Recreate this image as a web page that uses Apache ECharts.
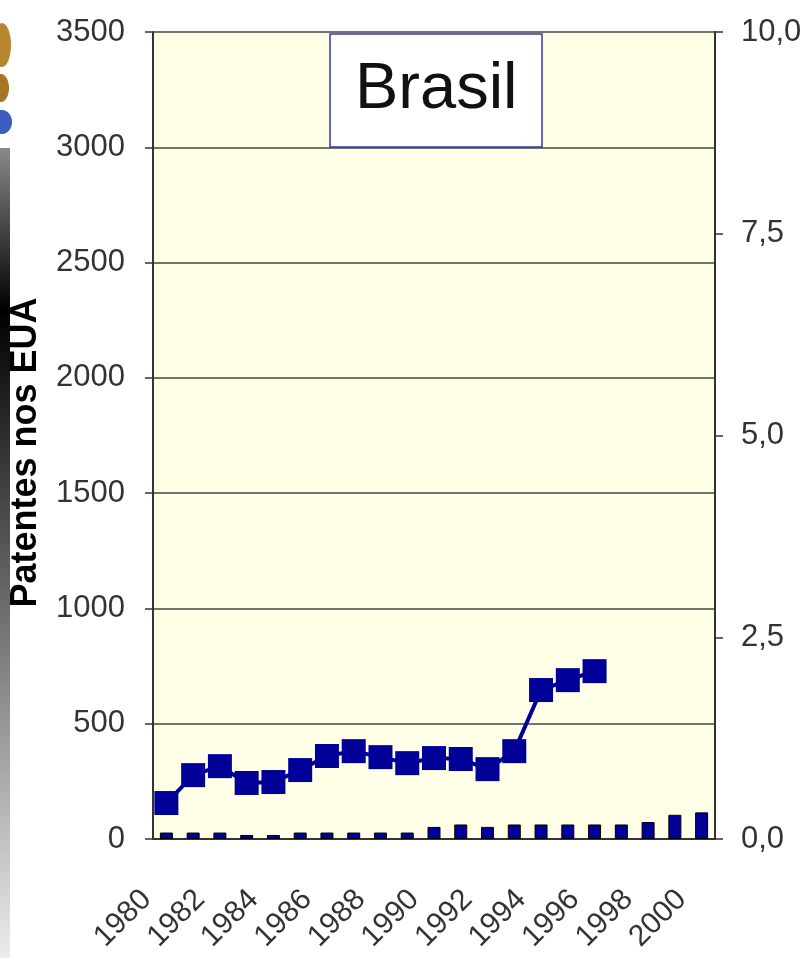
<!DOCTYPE html>
<html>
<head>
<meta charset="utf-8">
<script src="https://cdn.jsdelivr.net/npm/echarts@6/dist/echarts.min.js"></script>
<style>
  html, body { margin: 0; padding: 0; background: #fff; }
  #box { width: 806px; height: 958px; }
</style>
</head>
<body>
<div id="box"></div>
<script>
(function () {
    // anos (eixo x)
    var years = ['1980', '1981', '1982', '1983', '1984', '1985', '1986', '1987', '1988', '1989', '1990',
        '1991', '1992', '1993', '1994', '1995', '1996', '1997', '1998', '1999', '2000'];
    // patentes nos EUA (linha, eixo esquerdo)
    var patentes = [156, 277, 316, 243, 247, 299, 360, 381, 355, 329, 351, 347, 303, 381, 646, 689, 728];
    // barras (eixo direito)
    var barras = [0.08, 0.08, 0.08, 0.05, 0.05, 0.08, 0.08, 0.08, 0.08, 0.08, 0.15,
        0.18, 0.15, 0.18, 0.18, 0.18, 0.18, 0.18, 0.21, 0.30, 0.33];

    var font = "'Liberation Sans', Arial, sans-serif";
    var myChart = echarts.init(document.getElementById('box'));

    var option = {
        backgroundColor: '#fff',
        animation: false,
        title: {
            text: 'Brasil',
            left: 330,
            top: 34,
            padding: [24, 25, 24, 25],
            backgroundColor: '#fff',
            borderColor: '#3333bb',
            borderWidth: 1.5,
            textStyle: {
                fontFamily: font,
                fontWeight: 'normal',
                fontSize: 65,
                color: '#111'
            }
        },
        grid: {
            left: 153,
            right: 91,
            top: 32,
            bottom: 119,
            show: true,
            backgroundColor: '#ffffe8',
            borderWidth: 0
        },
        xAxis: {
            type: 'category',
            data: years,
            boundaryGap: true,
            axisLine: { lineStyle: { color: '#333', width: 2 } },
            axisTick: { interval: 0, length: 8, lineStyle: { color: '#333', width: 1.5 } },
            axisLabel: {
                interval: 1,
                rotate: 45,
                margin: 36,
                padding: [0, 28, 0, 0],
                fontFamily: font,
                fontSize: 30,
                color: '#333'
            }
        },
        yAxis: [
            {
                type: 'value',
                min: 0,
                max: 3500,
                interval: 500,
                name: 'Patentes nos EUA',
                nameLocation: 'middle',
                nameGap: 109,
                nameTextStyle: {
                    fontFamily: font, fontWeight: 'bold', fontSize: 36, color: '#000',
                    padding: [0, 34, 0, 0]
                },
                axisLine: { show: true, lineStyle: { color: '#333', width: 2 } },
                axisTick: { show: true, length: 8, lineStyle: { color: '#333', width: 1.5 } },
                splitLine: { show: true, lineStyle: { color: '#444', width: 1.5 } },
                axisLabel: {
                    margin: 28, fontFamily: font, fontSize: 31, color: '#333',
                    formatter: function (v) { return String(v); }
                }
            },
            {
                type: 'value',
                min: 0,
                max: 10,
                interval: 2.5,
                position: 'right',
                axisLine: { show: true, lineStyle: { color: '#333', width: 2 } },
                axisTick: { show: true, length: 8, lineStyle: { color: '#333', width: 1.5 } },
                splitLine: { show: false },
                axisLabel: {
                    margin: 26,
                    fontFamily: font,
                    fontSize: 31,
                    color: '#333',
                    formatter: function (v) { return v.toFixed(1).replace('.', ','); }
                }
            }
        ],
        series: [
            {
                type: 'bar',
                yAxisIndex: 1,
                data: barras,
                barWidth: 13,
                itemStyle: { color: '#000099', borderColor: '#000', borderWidth: 1 }
            },
            {
                type: 'line',
                yAxisIndex: 0,
                data: patentes,
                symbol: 'rect',
                symbolSize: 24,
                showAllSymbol: true,
                lineStyle: { color: '#000099', width: 4 },
                itemStyle: { color: '#000099' },
                z: 5
            }
        ],
        // faixa em degradê e logo no canto esquerdo
        graphic: [
            {
                type: 'rect',
                shape: { x: 0, y: 148, width: 10, height: 810 },
                style: {
                    fill: {
                        type: 'linear', x: 0, y: 0, x2: 0, y2: 1,
                        colorStops: [
                            { offset: 0, color: '#8a8a8a' },
                            { offset: 0.2, color: '#000' },
                            { offset: 1, color: '#ececec' }
                        ]
                    }
                }
            },
            { type: 'ellipse', shape: { cx: 2, cy: 45, rx: 9, ry: 22 }, style: { fill: '#b8862e' } },
            { type: 'ellipse', shape: { cx: 1, cy: 88, rx: 8, ry: 14 }, style: { fill: '#a87524' } },
            { type: 'ellipse', shape: { cx: 2, cy: 122, rx: 10, ry: 12 }, style: { fill: '#3a5fc0' } }
        ]
    };

    myChart.setOption(option);
})();
</script>
</body>
</html>
